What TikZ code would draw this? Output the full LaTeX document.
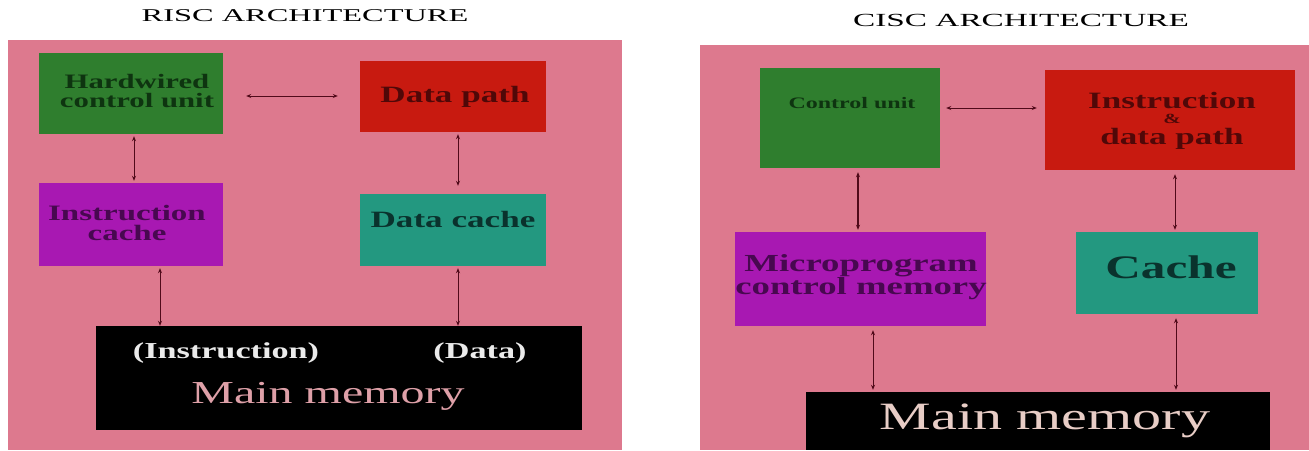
\documentclass[tikz,border=0pt]{standalone}
\usepackage{fontspec}
\setmainfont{Liberation Serif}
\usepackage{graphicx}
\usetikzlibrary{arrows.meta}
\definecolor{bgpink}{RGB}{221,121,142}
\definecolor{boxgreen}{RGB}{47,126,46}
\definecolor{boxred}{RGB}{200,26,16}
\definecolor{boxpurple}{RGB}{168,24,178}
\definecolor{boxteal}{RGB}{35,152,128}
\definecolor{txtgreen}{RGB}{14,52,16}
\definecolor{txtred}{RGB}{80,8,8}
\definecolor{txtpurple}{RGB}{72,8,80}
\definecolor{txtteal}{RGB}{10,50,45}
\definecolor{txtpink}{RGB}{222,160,168}
\definecolor{txtlight}{RGB}{232,205,198}
\definecolor{arrcol}{RGB}{80,10,26}
\newcommand{\wtext}[4]{\scalebox{#1}[1]{\fontsize{#2}{#3}\selectfont\begin{tabular}{@{}c@{}}#4\end{tabular}}}
\newcommand{\wbtext}[3]{\scalebox{1.5}[1]{\fontsize{#1}{#2}\selectfont\bfseries\begin{tabular}{@{}c@{}}#3\end{tabular}}}
\begin{document}
\begin{tikzpicture}[x=1pt,y=-1pt,
  blk/.style={rectangle,inner sep=0pt,draw=none},
  lbl/.style={inner sep=0pt,align=center},
  arr/.style={draw=arrcol,line width=1pt,{Stealth[length=5pt,width=4pt]}-{Stealth[length=5pt,width=4pt]}}]
\useasboundingbox (0,0) rectangle (1309,450);
\fill[white] (0,0) rectangle (1309,450);
% ---------- RISC ----------
\node[lbl] (rtitle) at (305,18) {\wtext{1.8}{18}{18}{RISC ARCHITECTURE}};
\fill[bgpink] (8,40) rectangle (622,450);
\node[blk,fill=boxgreen,minimum width=184pt,minimum height=81pt] (hw) at (131,93.5) {};
\node[blk,fill=boxred,minimum width=186pt,minimum height=71pt] (dp) at (453,96.5) {};
\node[blk,fill=boxpurple,minimum width=184pt,minimum height=83pt] (ic) at (131,224.5) {};
\node[blk,fill=boxteal,minimum width=186pt,minimum height=72pt] (dc) at (453,230) {};
\node[blk,fill=black,minimum width=486pt,minimum height=104pt] (mm) at (339,378) {};
\node[lbl,text=txtgreen] (hwt) at (137,93) {\wbtext{20.5}{16.5}{Hardwired\\control unit}};
\node[lbl,text=txtred] (dpt) at (455,98) {\wbtext{23.4}{23}{Data path}};
\node[lbl,text=txtpurple] (ict) at (127,225) {\wbtext{22}{16}{Instruction\\cache}};
\node[lbl,text=txtteal] (dct) at (453,223) {\wbtext{23.4}{23}{Data cache}};
\node[lbl,text=white!92!black] (mmi) at (226,354) {\wbtext{22.8}{23}{(Instruction)}};
\node[lbl,text=white!92!black] (mmd) at (480,354) {\wbtext{22.8}{23}{(Data)}};
\node[lbl,text=txtpink] (mmt) at (328,397) {\wtext{1.5}{32}{32}{Main memory}};
\draw[arr,shorten <=23pt,shorten >=22pt] ([yshift=-2.5pt]hw.east) -- ([yshift=-2.5pt]hw.east -| dp.west);
\draw[arr,shorten <=2pt,shorten >=2pt] ([xshift=3pt]hw.south) -- ([xshift=3pt]hw.south |- ic.north);
\draw[arr,shorten <=2pt,shorten >=8pt] ([xshift=5pt]dp.south) -- ([xshift=5pt]dp.south |- dc.north);
\draw[arr,shorten <=2pt,shorten >=0pt] ([xshift=29pt]ic.south) -- ([xshift=29pt]ic.south |- mm.north);
\draw[arr,shorten <=2pt,shorten >=0pt] ([xshift=5pt]dc.south) -- ([xshift=5pt]dc.south |- mm.north);
% ---------- CISC ----------
\node[lbl] (ctitle) at (1021,23) {\wtext{1.8}{18.5}{18}{CISC ARCHITECTURE}};
\fill[bgpink] (700,45) rectangle (1309,450);
\node[blk,fill=boxgreen,minimum width=180pt,minimum height=100pt] (cu) at (850,118) {};
\node[blk,fill=boxred,minimum width=250pt,minimum height=100pt] (idp) at (1170,120) {};
\node[blk,fill=boxpurple,minimum width=251pt,minimum height=94pt] (mcm) at (860.5,279) {};
\node[blk,fill=boxteal,minimum width=182pt,minimum height=82pt] (cache) at (1167,273) {};
\node[blk,fill=black,minimum width=464pt,minimum height=58pt] (cmm) at (1038,421) {};
\node[lbl,text=txtgreen] (cut) at (852,105) {\wbtext{16}{16}{Control unit}};
\node[lbl,text=txtred] (idpt) at (1172,121) {\wbtext{23.4}{15.5}{Instruction\\{\fontsize{14}{12}\selectfont\&}\\data path}};
\node[lbl,text=txtpurple] (mcmt) at (861,277) {\wbtext{24.5}{20}{Microprogram\\control memory}};
\node[lbl,text=txtteal] (cachet) at (1171,272) {\wbtext{32.8}{32}{Cache}};
\node[lbl,text=txtlight] (cmmt) at (1045,422) {\wtext{1.5}{38.7}{38}{Main memory}};
\draw[arr,shorten <=6pt,shorten >=8pt] ([yshift=10pt]cu.east) -- ([yshift=10pt]cu.east -| idp.west);
\draw[arr,line width=1.8pt,shorten <=4pt,shorten >=2pt] ([xshift=8pt]cu.south) -- ([xshift=8pt]cu.south |- mcm.north);
\draw[arr,shorten <=4pt,shorten >=2pt] ([xshift=5pt]idp.south) -- ([xshift=5pt]idp.south |- cache.north);
\draw[arr,shorten <=4pt,shorten >=2pt] ([xshift=12.5pt]mcm.south) -- ([xshift=12.5pt]mcm.south |- cmm.north);
\draw[arr,shorten <=4pt,shorten >=2pt] ([xshift=9pt]cache.south) -- ([xshift=9pt]cache.south |- cmm.north);
\end{tikzpicture}
\end{document}
